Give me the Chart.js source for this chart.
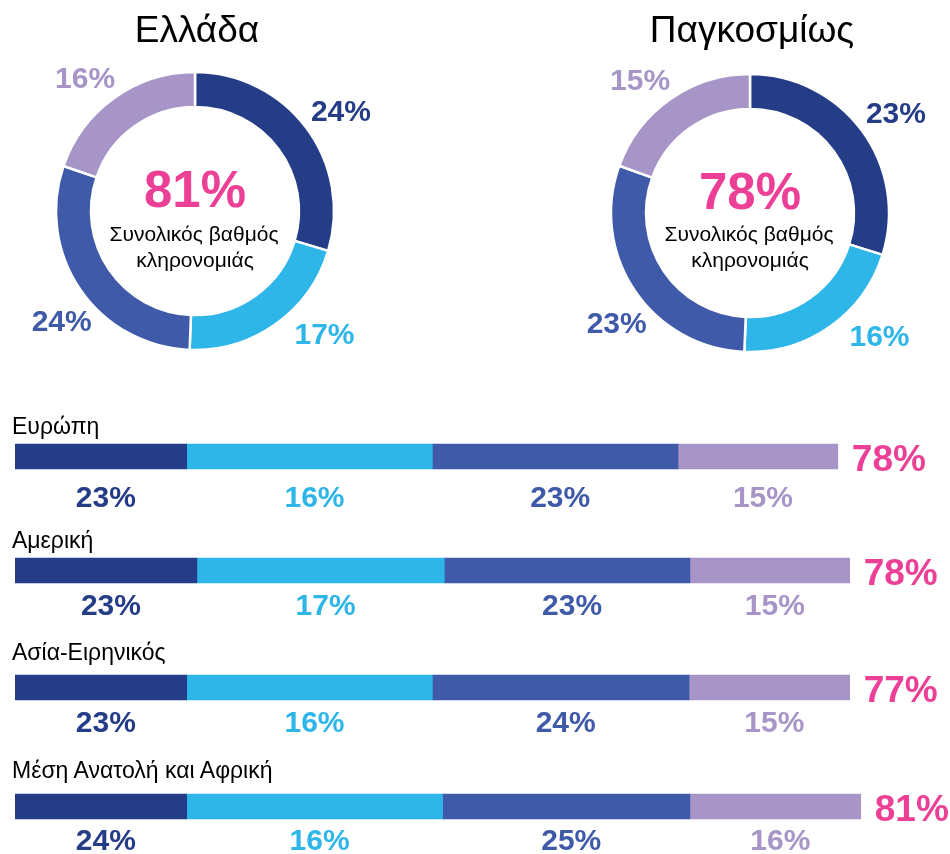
<!DOCTYPE html>
<html>
<head>
<meta charset="utf-8">
<script src="https://cdn.jsdelivr.net/npm/chart.js@4.4.1/dist/chart.umd.min.js"></script>
<style>
  html, body { margin: 0; padding: 0; background: #ffffff; }
  #root { position: relative; width: 950px; height: 854px; overflow: hidden;
          font-family: "Liberation Sans", Arial, Helvetica, sans-serif; }
  #root canvas { position: absolute; }
  .t { position: absolute; white-space: nowrap; color: #000; }
</style>
</head>
<body>
<div id="root"></div>
<script>
// ---------------- DATA ----------------
const segmentNames = ['Τμήμα 1', 'Τμήμα 2', 'Τμήμα 3', 'Τμήμα 4'];

const donutTitles = ['Ελλάδα', 'Παγκοσμίως'];
const greeceValues = [24, 17, 24, 16];
const globalValues = [23, 16, 23, 15];
const donutTotals = [81, 78];
const donutCaption = ['Συνολικός βαθμός', 'κληρονομιάς'];

const regions = ['Ευρώπη', 'Αμερική', 'Ασία-Ειρηνικός', 'Μέση Ανατολή και Αφρική'];
const europeValues   = [23, 16, 23, 15];
const americasValues = [23, 17, 23, 15];
const asiaValues     = [23, 16, 24, 15];
const meaValues      = [24, 16, 25, 16];
const regionTotals   = [78, 78, 77, 81];

// bar segment lengths as drawn in the picture (percent of the bar track)
const europeBarLengths   = [20.2, 28.9, 28.9, 18.8];
const americasBarLengths = [21.4, 29.1, 28.9, 18.8];
const asiaBarLengths     = [20.2, 28.9, 30.2, 18.9];
const meaBarLengths      = [20.2, 30.1, 29.1, 20.1];

// ---------------- STYLE / LAYOUT ----------------
const FONT = '"Liberation Sans", Arial, Helvetica, sans-serif';
const segColors = ['#253D87', '#2EB6E8', '#3F5AA8', '#A795C7'];
const PINK = '#EC3F96';

const root = document.getElementById('root');

function addText(txt, o) {
  const d = document.createElement('div');
  d.className = 't';
  d.textContent = txt;
  d.style.fontSize = o.size + 'px';
  d.style.lineHeight = o.size + 'px';
  d.style.top = (o.baseline - 0.8465 * o.size) + 'px';
  if (o.center !== undefined) {
    d.style.left = o.center + 'px';
    d.style.transform = 'translateX(-50%)';
  } else {
    d.style.left = o.left + 'px';
  }
  if (o.weight) d.style.fontWeight = o.weight;
  if (o.color) d.style.color = o.color;
  d.style.zIndex = 2;
  root.appendChild(d);
}

function addCanvas(left, top, w, h) {
  const c = document.createElement('canvas');
  c.width = w; c.height = h;
  c.style.left = left + 'px'; c.style.top = top + 'px';
  c.style.width = w + 'px'; c.style.height = h + 'px';
  c.style.zIndex = 1;
  root.appendChild(c);
  return c;
}

// ---------------- DONUTS ----------------
const donutLayout = [
  { cx: 195, cy: 211, titleCx: 197 },
  { cx: 750, cy: 213, titleCx: 752 }
];
const donutValues = [greeceValues, globalValues];
const DONUT_HALF = 195;
const OUTER_R = 139;
const INNER_R = 104;
const labelAngles = [56, 134, 230, 320];     // degrees, clockwise from top
const labelRadii  = [176, 180, 174, 171];

const donutLabelPlugin = {
  id: 'donutLabels',
  afterDatasetsDraw(chart, args, opts) {
    const ctx = chart.ctx;
    const meta = chart.getDatasetMeta(0);
    const a0 = meta.data[0];
    const cx = a0.x, cy = a0.y;
    const vals = chart.data.datasets[0].data;
    ctx.save();
    ctx.font = 'bold 30px ' + FONT;
    ctx.textAlign = 'center';
    ctx.textBaseline = 'middle';
    vals.forEach((v, i) => {
      const a = labelAngles[i] * Math.PI / 180;
      const x = cx + labelRadii[i] * Math.sin(a);
      const y = cy - labelRadii[i] * Math.cos(a);
      ctx.fillStyle = segColors[i];
      ctx.fillText(v + '%', x, y);
    });
    ctx.font = 'bold 51px ' + FONT;
    ctx.fillStyle = PINK;
    ctx.textBaseline = 'alphabetic';
    ctx.fillText(opts.total + '%', cx, cy - 4);
    ctx.restore();
  }
};

donutLayout.forEach((L, k) => {
  addText(donutTitles[k], { size: 37, baseline: 42, center: L.titleCx });
  addText(donutCaption[0], { size: 21, baseline: 241, center: L.cx - 1 });
  addText(donutCaption[1], { size: 21, baseline: 267, center: L.cx });
  const cv = addCanvas(L.cx - DONUT_HALF, L.cy - DONUT_HALF, DONUT_HALF * 2, DONUT_HALF * 2);
  new Chart(cv, {
    type: 'doughnut',
    data: {
      labels: segmentNames,
      datasets: [{
        data: donutValues[k],
        backgroundColor: segColors,
        borderColor: '#ffffff',
        borderWidth: 2.5
      }]
    },
    options: {
      responsive: false,
      animation: false,
      events: [],
      radius: OUTER_R,
      cutout: (INNER_R / OUTER_R * 100).toFixed(2) + '%',
      layout: { padding: 0 },
      plugins: {
        legend: { display: false },
        tooltip: { enabled: false },
        donutLabels: { total: donutTotals[k] }
      }
    },
    plugins: [donutLabelPlugin]
  });
});

// ---------------- REGION BARS ----------------
const regionValuesList = [europeValues, americasValues, asiaValues, meaValues];
const regionLengthsList = [europeBarLengths, americasBarLengths, asiaBarLengths, meaBarLengths];
const rowLayout = [
  { barCenter: 456.5, nameBaseline: 434, labelGap: 38 },
  { barCenter: 570.5, nameBaseline: 548, labelGap: 32 },
  { barCenter: 687.5, nameBaseline: 660, labelGap: 32 },
  { barCenter: 806.5, nameBaseline: 778, labelGap: 31 }
];
const ROW_H = 111;

const barLabelPlugin = {
  id: 'barLabels',
  afterDatasetsDraw(chart, args, opts) {
    const ctx = chart.ctx;
    ctx.save();
    let endX = 0, bottom = 0;
    chart.data.datasets.forEach((ds, i) => {
      const el = chart.getDatasetMeta(i).data[0];
      const p = el.getProps(['x', 'y', 'base', 'height'], true);
      const mid = (p.x + p.base) / 2 + 5;
      bottom = p.y + p.height / 2;
      endX = Math.max(endX, p.x);
      ctx.font = 'bold 30px ' + FONT;
      ctx.textAlign = 'center';
      ctx.textBaseline = 'alphabetic';
      ctx.fillStyle = segColors[i];
      ctx.fillText(opts.values[i] + '%', mid, bottom + opts.gap);
    });
    ctx.font = 'bold 37px ' + FONT;
    ctx.textAlign = 'left';
    ctx.fillStyle = PINK;
    ctx.fillText(opts.total + '%', endX + 14, bottom + 2);
    ctx.restore();
  }
};

regions.forEach((name, r) => {
  const L = rowLayout[r];
  addText(name, { size: 23, baseline: L.nameBaseline, left: 12 });
  const top = L.barCenter - ROW_H / 2;
  const cv = addCanvas(0, top, 950, ROW_H);
  new Chart(cv, {
    type: 'bar',
    data: {
      labels: [name],
      datasets: segmentNames.map((s, i) => ({
        label: s,
        data: [regionLengthsList[r][i]],
        backgroundColor: segColors[i],
        borderWidth: 0,
        barThickness: 25
      }))
    },
    options: {
      indexAxis: 'y',
      responsive: false,
      animation: false,
      events: [],
      layout: { padding: { left: 15, right: 85, top: 0, bottom: 0 } },
      scales: {
        x: { stacked: true, min: 0, max: 100, display: false },
        y: { stacked: true, display: false }
      },
      plugins: {
        legend: { display: false },
        tooltip: { enabled: false },
        barLabels: { values: regionValuesList[r], total: regionTotals[r], gap: L.labelGap }
      }
    },
    plugins: [barLabelPlugin]
  });
});
</script>
</body>
</html>
